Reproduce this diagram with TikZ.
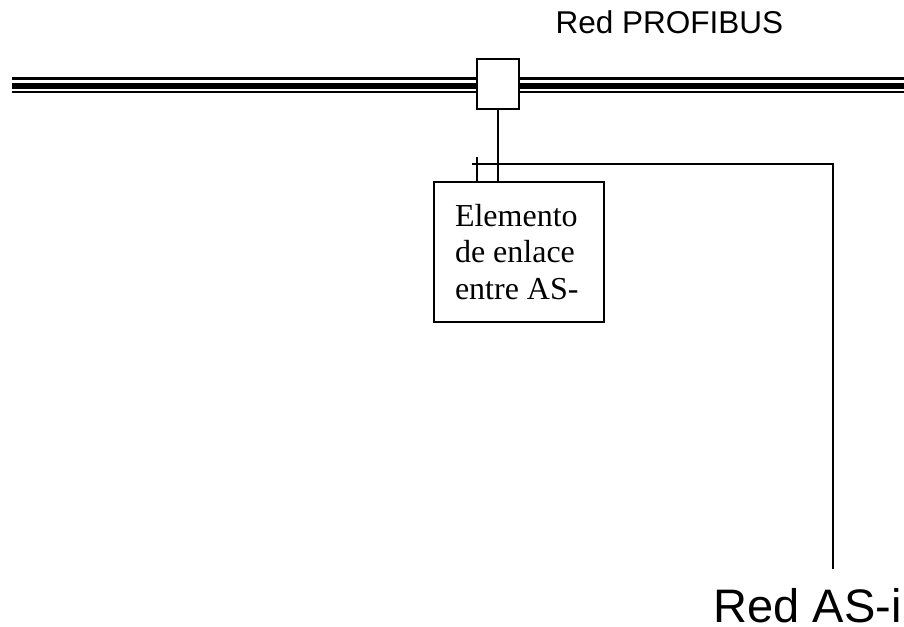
\documentclass[tikz,border=0pt]{standalone}
\usepackage{fontspec}
\setmainfont{Liberation Serif}
\setsansfont{Liberation Sans}
\begin{document}
\begin{tikzpicture}[x=1pt, y=-1pt, line width=1.4pt,
    caja/.style={draw, fill=white, inner sep=0pt},
    rotulo/.style={inner sep=0pt, anchor=base west, text depth=0pt}]
    \useasboundingbox (0,0) rectangle (904,626);

    % 总线 (三条线)
    \draw[line width=2.8pt] (12,78.5) -- (904,78.5);
    \draw[line width=6pt] (12,85.5) -- (904,85.5);
    \draw[line width=2.8pt] (12,92) -- (904,92);
    \node[rotulo, font=\sffamily\fontsize{31.5}{31.5}\selectfont] (profibus) at (555,34) {Red PROFIBUS};

    % 接口方框
    \node[caja, minimum width=42, minimum height=50] (acoplador) at (498,84) {};

    % 连接元件
    \node[caja, minimum width=170, minimum height=140, text width=128pt,
        inner xsep=21pt, align=flush left, font=\fontsize{32}{36.5}\selectfont]
        (enlace) at (519,252) {Elemento\\de enlace\\entre AS-};
    \draw (acoplador.south) -- (acoplador.south |- enlace.north);

    % AS-i 线
    \coordinate (tope) at (477,157);
    \coordinate (ini) at (472,164);
    \coordinate (esq) at (833,164);
    \coordinate (fin) at (833,569);
    \draw (tope) -- (tope |- enlace.north);
    \draw[line width=1.2pt] (ini) -- (esq) -- (fin);
    \node[rotulo, font=\sffamily\fontsize{47}{47}\selectfont] (asi) at (713,622) {Red AS-i};
\end{tikzpicture}
\end{document}
